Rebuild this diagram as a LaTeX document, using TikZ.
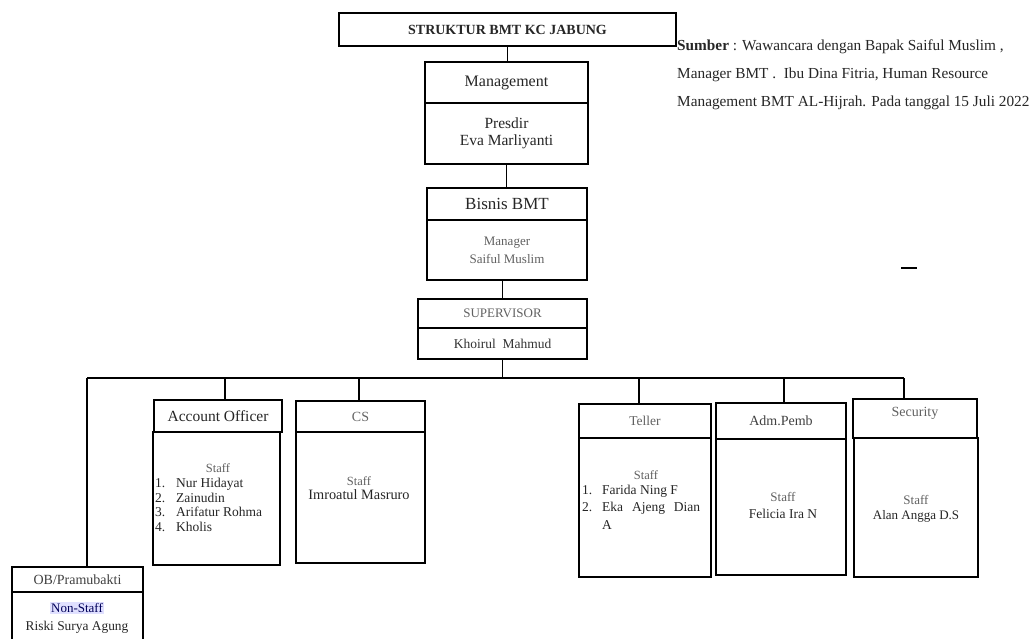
\documentclass[tikz,border=0pt]{standalone}
\usepackage{fontspec}
\setmainfont{Liberation Serif}
\newcommand{\fsz}[2]{\fontsize{#1}{#2}\selectfont}
\tikzset{
  box/.style={draw=black, line width=1.6pt, anchor=north west, inner sep=0pt, outer sep=0pt, align=center},
  link/.style={line width=1.6pt},
  txt/.style={inner sep=0pt, text=black!85, align=center},
  soft/.style={inner sep=0pt, text=black!62, align=center},
  item/.style={inner sep=0pt, text=black!85, anchor=west},
}
\begin{document}
\begin{tikzpicture}[x=1pt,y=-1pt]
\clip (0,0) rectangle (1032,638);
\fill[white] (0,0) rectangle (1032,638);

% top chain
\node[box, minimum width=337pt, minimum height=33pt, font=\bfseries\fsz{14}{16}, text=black!85] (title) at (339,13) {STRUKTUR BMT KC JABUNG};
\node[box, minimum width=163pt, minimum height=41pt, font=\fsz{16}{18}, text=black!85] (mgH) at (425,62) {Management};
\node[box, minimum width=163pt, minimum height=61pt, font=\fsz{15.5}{17}, text=black!85] (mgB) at (425,103) {Presdir\\Eva Marliyanti};
\node[box, minimum width=160pt, minimum height=32pt, font=\fsz{17}{19}, text=black!85] (bzH) at (427,188) {Bisnis BMT};
\node[box, minimum width=160pt, minimum height=60pt, font=\fsz{13}{18}, text=black!62] (bzB) at (427,220) {Manager\\Saiful Muslim};
\node[box, minimum width=169pt, minimum height=29pt, font=\fsz{13}{15}, text=black!62] (supH) at (418,299) {SUPERVISOR};
\node[box, minimum width=169pt, minimum height=31pt, font=\fsz{13.5}{15}, text=black!80] (supB) at (418,328) {Khoirul\ \ Mahmud};

\draw[link] (title.south) -- (title.south |- mgH.north);
\draw[link] (mgB.south) -- (mgB.south |- bzH.north);
\draw[link] (bzB.south -| supH.north) -- (supH.north);

% bus
\coordinate (busL) at (87,378);
\coordinate (busR) at (904,378);
\coordinate (dAO) at (225,378);
\coordinate (dCS) at (359,378);
\coordinate (dTe) at (639,378);
\coordinate (dAd) at (784,378);
\draw[link] (supB.south) -- (supB.south |- busL);
\draw[link] (busL) -- (busR);

% department boxes
\node[box, minimum width=128pt, minimum height=32pt, font=\fsz{15.5}{17}, text=black!85] (aoH) at (154,400) {Account Officer};
\node[box, minimum width=127pt, minimum height=133pt] (aoB) at (153,432) {};
\node[box, minimum width=129pt, minimum height=31pt, font=\fsz{14}{16}, text=black!60] (csH) at (296,401) {CS};
\node[box, minimum width=129pt, minimum height=131pt] (csB) at (296,432) {};
\node[box, minimum width=132pt, minimum height=34pt, font=\fsz{13.5}{15}, text=black!62] (teH) at (579,404) {Teller};
\node[box, minimum width=132pt, minimum height=139pt] (teB) at (579,438) {};
\node[box, minimum width=130pt, minimum height=36pt, font=\fsz{14}{16}, text=black!75] (adH) at (716,403) {Adm.Pemb};
\node[box, minimum width=130pt, minimum height=136pt] (adB) at (716,439) {};
\node[box, minimum width=124pt, minimum height=39pt] (seH) at (853,399) {};
\node[soft, font=\fsz{14}{16}] (seT) at (915,413) {Security};
\node[box, minimum width=124pt, minimum height=139pt] (seB) at (854,438) {};
\node[box, minimum width=131pt, minimum height=25pt, font=\fsz{14}{16}, text=black!75] (obH) at (12,567) {OB/Pramubakti};
\node[box, minimum width=131pt, minimum height=70pt] (obB) at (12,592) {};

\draw[link] (busL) -- (busL |- obH.north);
\draw[link] (dAO) -- (dAO |- aoH.north);
\draw[link] (dCS) -- (dCS |- csH.north);
\draw[link] (dTe) -- (dTe |- teH.north);
\draw[link] (dAd) -- (dAd |- adH.north);
\draw[link] (busR) -- (busR |- seH.north);

% Account Officer body
\node[soft, font=\fsz{12.5}{14}] (aoS) at (218,468) {Staff};
\node[item, font=\fsz{13.5}{14}] (ao1) at (155,484) {\makebox[21pt][l]{1.}Nur Hidayat};
\node[item, font=\fsz{13.5}{14}] (ao2) at (155,498) {\makebox[21pt][l]{2.}Zainudin};
\node[item, font=\fsz{13.5}{14}] (ao3) at (155,512) {\makebox[21pt][l]{3.}Arifatur Rohma};
\node[item, font=\fsz{13.5}{14}] (ao4) at (155,527) {\makebox[21pt][l]{4.}Kholis};

% CS body
\node[soft, font=\fsz{12.5}{14}] (csS) at (359,481) {Staff};
\node[txt, font=\fsz{14.3}{15}] (csN) at (359,495) {Imroatul Masruro};

% Teller body
\node[soft, font=\fsz{12.5}{14}] (teS) at (646,475) {Staff};
\node[item, font=\fsz{13.5}{15}] (te1) at (582,491) {\makebox[20pt][l]{1.}Farida Ning F};
\node[item, font=\fsz{13.5}{15}] (te2) at (582,508) {\makebox[20pt][l]{2.}\makebox[98pt][s]{Eka Ajeng Dian}};
\node[item, font=\fsz{13.5}{15}] (te3) at (602,525) {A};

% Adm body
\node[soft, font=\fsz{13}{15}] (adS) at (783,497) {Staff};
\node[txt, font=\fsz{13.5}{15}] (adN) at (783,514) {Felicia Ira N};

% Security body
\node[soft, font=\fsz{13}{15}] (seS) at (916,500) {Staff};
\node[txt, font=\fsz{13}{15}] (seN) at (916,516) {Alan Angga D.S};

% OB body
\node[txt, font=\fsz{13}{15}, fill=blue!12, inner sep=1pt, text=blue!35!black] (obS) at (77,608) {Non-Staff};
\node[txt, font=\fsz{13.4}{15}] (obN) at (77,627) {Riski Surya Agung};

% source text
\node[txt, anchor=base west, font=\fsz{15.3}{17}] (src1) at (677,50) {\textbf{Sumber} : Wawancara dengan Bapak Saiful Muslim ,};
\node[txt, anchor=base west, font=\fsz{15.3}{17}] (src2) at (677,78) {Manager BMT .\ \ Ibu Dina Fitria, Human Resource};
\node[txt, anchor=base west, font=\fsz{15.3}{17}] (src3) at (677,106) {Management BMT AL-Hijrah. Pada tanggal 15 Juli 2022};

% small dash
\draw[link] (901,268) -- (917,268);
\end{tikzpicture}
\end{document}
